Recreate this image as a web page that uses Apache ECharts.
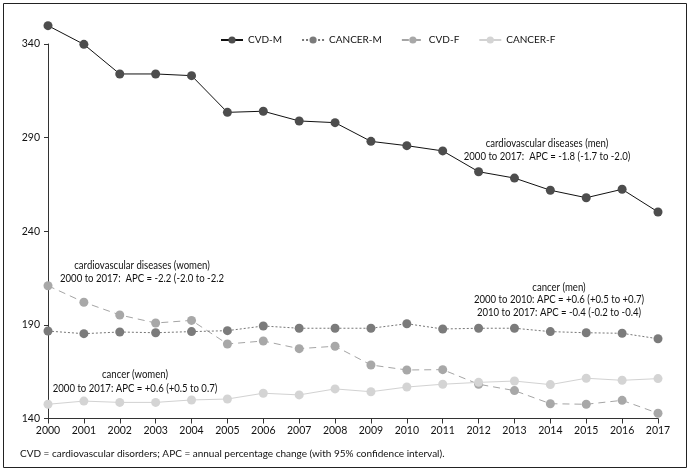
<!DOCTYPE html>
<html>
<head>
<meta charset="utf-8">
<script src="https://cdn.jsdelivr.net/npm/echarts@6/dist/echarts.min.js"></script>
<style>
html,body{margin:0;padding:0;background:#fff;}
#c{width:690px;height:474px;}
</style>
</head>
<body>
<div id="c"></div>
<script>
const years = ['2000','2001','2002','2003','2004','2005','2006','2007','2008','2009','2010','2011','2012','2013','2014','2015','2016','2017'];
const cvdM    = [349.8,339.8,324.0,324.0,323.1,303.5,304.1,298.9,298.0,288.0,285.7,282.9,271.8,268.4,261.9,257.9,262.4,250.3];
const cancerM = [186.7,185.3,186.2,185.8,186.4,186.9,189.4,188.2,188.2,188.2,190.6,187.8,188.2,188.2,186.4,185.8,185.5,182.6];
const cvdF    = [210.9,202.1,195.3,191.0,192.4,179.8,181.4,177.3,178.6,168.6,165.9,166.1,158.3,154.9,147.9,147.6,149.7,142.8];
const cancerF = [147.6,149.3,148.6,148.6,149.9,150.4,153.5,152.6,155.8,154.3,156.8,158.3,159.3,160.0,158.1,161.5,160.4,161.3];
const yTicks = [140,190,240,290,340];

const FONT = 'Lato, "Liberation Sans", sans-serif';
const chart = echarts.init(document.getElementById('c'));

function mk(name, data, lineColor, markColor, type, z) {
  return {
    name: name, type: 'line', data: data, clip: false, z: z,
    symbol: 'circle', symbolSize: 9,
    lineStyle: {color: lineColor, width: 1, type: type},
    itemStyle: {color: markColor},
    emphasis: {disabled: true}
  };
}

const txt = (x, y, s, lh) => ({
  type: 'text', x: x, y: y, scaleX: 0.87,
  style: {text: s, fill: '#111', font: '11px ' + FONT, align: 'center', lineHeight: lh}
});

chart.setOption({
  animation: false,
  backgroundColor: '#fff',
  textStyle: {fontFamily: FONT},
  grid: {left: 48, right: 32, top: 44, bottom: 55.5, containLabel: false},
  legend: {
    top: 30, left: 215, itemWidth: 22, itemHeight: 9, itemGap: 19,
    textStyle: {fontSize: 10, color: '#111', fontFamily: FONT},
    data: ['CVD-M','CANCER-M','CVD-F','CANCER-F']
  },
  xAxis: {
    type: 'category', data: years, boundaryGap: false,
    axisLine: {lineStyle: {color: '#333', width: 1}},
    axisTick: {show: true, length: 5, lineStyle: {color: '#333'}},
    axisLabel: {color: '#111', fontSize: 10.5, margin: 7, fontFamily: FONT},
    splitLine: {show: false}
  },
  yAxis: {
    type: 'value', min: yTicks[0], max: yTicks[yTicks.length-1], interval: 50,
    axisLine: {show: true, lineStyle: {color: '#333', width: 1}},
    axisTick: {show: true, length: 4, lineStyle: {color: '#333'}},
    axisLabel: {color: '#111', fontSize: 10.5, margin: 8, fontFamily: FONT},
    splitLine: {show: false}
  },
  series: [
    mk('CVD-M', cvdM, '#111', '#4d4d4d', 'solid', 5),
    mk('CANCER-M', cancerM, '#777', '#7b7b7b', [2,2], 4),
    mk('CVD-F', cvdF, '#a5a5a5', '#a8a8a8', [7,5], 3),
    mk('CANCER-F', cancerF, '#d2d2d2', '#d4d4d4', 'solid', 6)
  ],
  graphic: [
    {type: 'rect', shape: {x: 3.5, y: 3.5, width: 683, height: 464}, style: {fill: 'none', stroke: '#222', lineWidth: 1}, z: -1},
    txt(547, 137, 'cardiovascular diseases (men)\n2000 to 2017:  APC = -1.8 (-1.7 to -2.0)', 13),
    txt(142, 259, 'cardiovascular diseases (women)\n2000 to 2017:  APC = -2.2 (-2.0 to -2.2', 13),
    txt(559, 281, 'cancer (men)\n2000 to 2010: APC = +0.6 (+0.5 to +0.7)\n2010 to 2017: APC = -0.4 (-0.2 to -0.4)', 12.5),
    txt(135, 368, 'cancer (women)\n2000 to 2017: APC = +0.6 (+0.5 to 0.7)', 13.5),
    {type: 'text', x: 20, y: 449, style: {text: 'CVD = cardiovascular disorders; APC = annual percentage change (with 95% confidence interval).', fill: '#111', font: '10px ' + FONT}}
  ]
});
</script>
</body>
</html>
